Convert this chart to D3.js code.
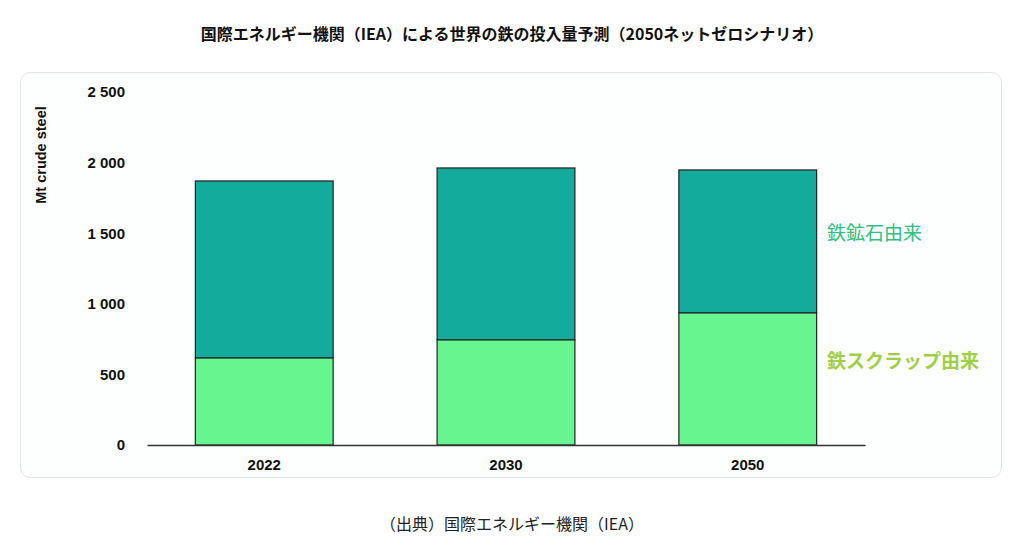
<!DOCTYPE html><html><head><meta charset="utf-8"><script src="https://cdn.jsdelivr.net/npm/d3@7"></script>
<style>body{margin:0;background:#fff;font-family:"Noto Sans CJK JP",sans-serif}</style></head><body>
<svg id="c" width="1024" height="549"></svg>
<script>
const years=["2022","2030","2050"];
const scrap=[616,744,935];
const ore=[1254,1218,1013];
const ticks=[0,500,1000,1500,2000,2500];
const svg=d3.select("#c");
svg.append("text").attr("x",512).attr("y",40).attr("text-anchor","middle").attr("font-size",16).attr("font-weight","bold").attr("fill","#111").text("国際エネルギー機関（IEA）による世界の鉄の投入量予測（2050ネットゼロシナリオ）");
svg.append("rect").attr("x",20.5).attr("y",72.5).attr("width",981).attr("height",405).attr("rx",10).attr("fill","#fdfefe").attr("stroke","#e3e3e3");
const y=d3.scaleLinear().domain([0,2500]).range([445,92]);
const x=d3.scaleBand().domain(years).range([147,865]).paddingInner(0.43).paddingOuter(0.2);
const af="Liberation Sans, Arial, sans-serif";
const ya=svg.append("g").attr("transform","translate(130,0)").call(d3.axisLeft(y).tickValues(ticks).tickSize(0).tickFormat(d=>d3.format(",")(d).replace(","," ")));
ya.select(".domain").remove();
ya.selectAll("text").attr("font-family",af).attr("font-size",15).attr("font-weight","bold").attr("fill","#111").attr("dx",-2);
svg.append("text").attr("transform","translate(46,155) rotate(-90)").attr("text-anchor","middle").attr("font-family",af).attr("font-size",14.5).attr("font-weight","bold").attr("fill","#111").text("Mt crude steel");
years.forEach((yr,i)=>{
 svg.append("rect").attr("x",x(yr)).attr("width",x.bandwidth()).attr("y",y(scrap[i]+ore[i])).attr("height",y(scrap[i])-y(scrap[i]+ore[i])).attr("fill","#13ab9c").attr("stroke","#222").attr("stroke-width",1.2);
 svg.append("rect").attr("x",x(yr)).attr("width",x.bandwidth()).attr("y",y(scrap[i])).attr("height",y(0)-y(scrap[i])).attr("fill","#67f590").attr("stroke","#222").attr("stroke-width",1.2);
});
const xa=svg.append("g").attr("transform","translate(0,445)").call(d3.axisBottom(x).tickSize(0).tickPadding(14));
xa.select(".domain").attr("stroke","#333").attr("stroke-width",1.5);
xa.selectAll("text").attr("font-family",af).attr("font-size",15).attr("font-weight","bold").attr("fill","#111");
svg.append("text").attr("x",827).attr("y",240).attr("font-size",19).attr("fill","#2fbf7f").text("鉄鉱石由来");
svg.append("text").attr("x",827).attr("y",368).attr("font-size",19).attr("font-weight","bold").attr("fill","#9fcf45").text("鉄スクラップ由来");
svg.append("text").attr("x",512).attr("y",530).attr("text-anchor","middle").attr("font-size",16).attr("fill","#222").text("（出典）国際エネルギー機関（IEA）");
</script></body></html>
